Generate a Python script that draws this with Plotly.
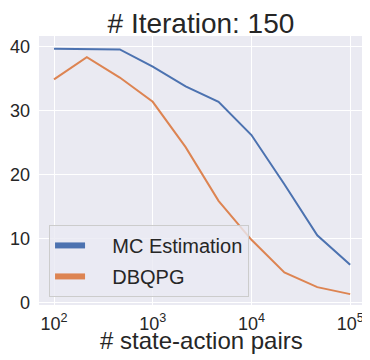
import plotly.graph_objects as go

# Data
x_pairs = [100, 215, 464, 1000, 2154, 4642, 10000, 21544, 46416, 100000]
mc_estimation = [39.7, 39.6, 39.6, 36.9, 33.8, 31.4, 26.2, 18.5, 10.5, 5.9]
dbqpg = [34.9, 38.4, 35.2, 31.4, 24.3, 15.9, 9.8, 4.7, 2.4, 1.3]
series_names = ["MC Estimation", "DBQPG"]
colors = ["#4C72B0", "#DD8452"]
x_tickvals = [100, 1000, 10000, 100000]
x_ticktext = ["10<sup>2</sup>", "10<sup>3</sup>", "10<sup>4</sup>", "10<sup>5</sup>"]
y_tickvals = [0, 10, 20, 30, 40]

fig = go.Figure()
for name, vals, c in zip(series_names, [mc_estimation, dbqpg], colors):
    fig.add_trace(go.Scatter(x=x_pairs, y=vals, mode="lines", name=name,
                             line=dict(color=c, width=2), showlegend=False,
                             legendgroup=name))
for name, c in zip(series_names, colors):
    fig.add_trace(go.Scatter(x=[None], y=[None], mode="lines",
                             name="\u00a0\u00a0\u00a0\u00a0" + name,
                             line=dict(color=c, width=6), showlegend=True,
                             legendgroup=name))

font_fam = "Liberation Sans, Arial, sans-serif"
fig.update_layout(
    width=362, height=352,
    margin=dict(l=31, r=7, t=28, b=55, autoexpand=False),
    paper_bgcolor="white",
    plot_bgcolor="#EAEAF2",
    font=dict(family=font_fam, color="#262626", size=17),
    title=dict(text="# Iteration: 150", x=0.533, xanchor="center",
               y=0.928, yanchor="bottom", font=dict(size=28, color="#262626")),
    legend=dict(x=0.031, y=0.03, xanchor="left", yanchor="bottom",
                bgcolor="rgba(234,234,242,0.8)", bordercolor="#CCCCCC",
                borderwidth=1, font=dict(size=20, color="#262626"),
                tracegroupgap=2),
    showlegend=True,
    annotations=[dict(text="# state-action pairs", xref="paper", yref="paper",
                      x=0.5, y=-0.076, xanchor="center", yanchor="top",
                      showarrow=False, font=dict(size=24, color="#262626"))],
)
fig.update_xaxes(type="log", range=[1.848, 5.13], tickvals=x_tickvals,
                 ticktext=x_ticktext, automargin=False,
                 showgrid=True, gridcolor="white",
                 gridwidth=1.3, zeroline=False, showline=False, ticks="",
                 ticklabelstandoff=6, tickfont=dict(size=18))
fig.update_yaxes(range=[-0.4, 41.7], tickvals=y_tickvals, showgrid=True,
                 automargin=False,
                 gridcolor="white", gridwidth=1.3, zeroline=False,
                 showline=False, ticks="", ticklabelstandoff=8,
                 tickfont=dict(size=18))

fig.write_html("out.html")
